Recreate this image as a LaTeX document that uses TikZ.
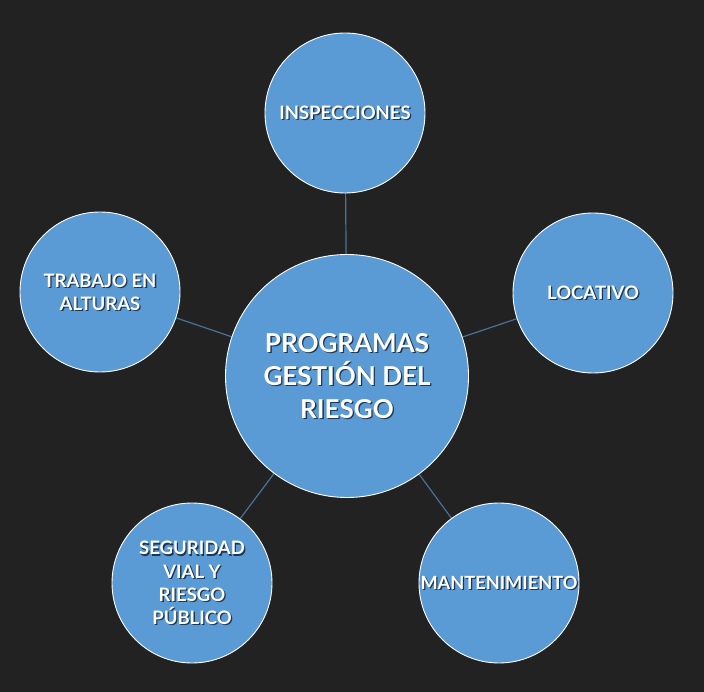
\documentclass[tikz,border=0pt]{standalone}
\usepackage{fontspec}
\setmainfont{Lato}
\definecolor{bgc}{HTML}{222222}
\definecolor{circ}{HTML}{5B9BD5}
\definecolor{linec}{HTML}{4A7095}
\definecolor{shad}{HTML}{1F3550}
\newcommand{\shtext}[3]{%
  \node[txt,text=shad,font=#3] at ([shift={(1.3,1.3)}]#1) {#2};
  \node[txt,font=#3] at (#1) {#2};}
\begin{document}
\begin{tikzpicture}[x=1pt,y=-1pt,
  bub/.style={circle,draw=white,line width=0.9pt,fill=circ,minimum size=160pt,inner sep=0pt},
  big/.style={circle,draw=white,line width=0.9pt,fill=circ,minimum size=243pt,inner sep=0pt},
  txt/.style={text=white,align=center,inner sep=0pt},
  conn/.style={draw=linec,line width=1.2pt}]
\fill[bgc] (0,0) rectangle (704,692);
\useasboundingbox (0,0) rectangle (704,692);
\coordinate (pc) at (347,376);
\coordinate (p1) at (345,113);
\coordinate (p2) at (593,293);
\coordinate (p3) at (499,583);
\coordinate (p4) at (192,583);
\coordinate (p5) at (100,292);
\draw[conn] (pc) -- (p1);
\draw[conn] (pc) -- (p2);
\draw[conn] (pc) -- (p3);
\draw[conn] (pc) -- (p4);
\draw[conn] (pc) -- (p5);
\node[big] (c) at (pc) {};
\node[bub] (n1) at (p1) {};
\node[bub] (n2) at (p2) {};
\node[bub] (n3) at (p3) {};
\node[bub] (n4) at (p4) {};
\node[bub] (n5) at (p5) {};
\shtext{c.center}{PROGRAMAS\\GESTIÓN DEL\\RIESGO}{\fontsize{26}{33}\selectfont\bfseries}
\shtext{n1.center}{INSPECCIONES}{\fontsize{18.5}{22}\selectfont\bfseries}
\shtext{n2.center}{LOCATIVO}{\fontsize{18.5}{22}\selectfont\bfseries}
\shtext{n3.center}{MANTENIMIENTO}{\fontsize{18.2}{22}\selectfont\bfseries}
\shtext{n4.center}{SEGURIDAD\\VIAL Y\\RIESGO\\PÚBLICO}{\fontsize{18.5}{23.3}\selectfont\bfseries}
\shtext{n5.center}{TRABAJO EN\\ALTURAS}{\fontsize{18.5}{23.3}\selectfont\bfseries}
\end{tikzpicture}
\end{document}
